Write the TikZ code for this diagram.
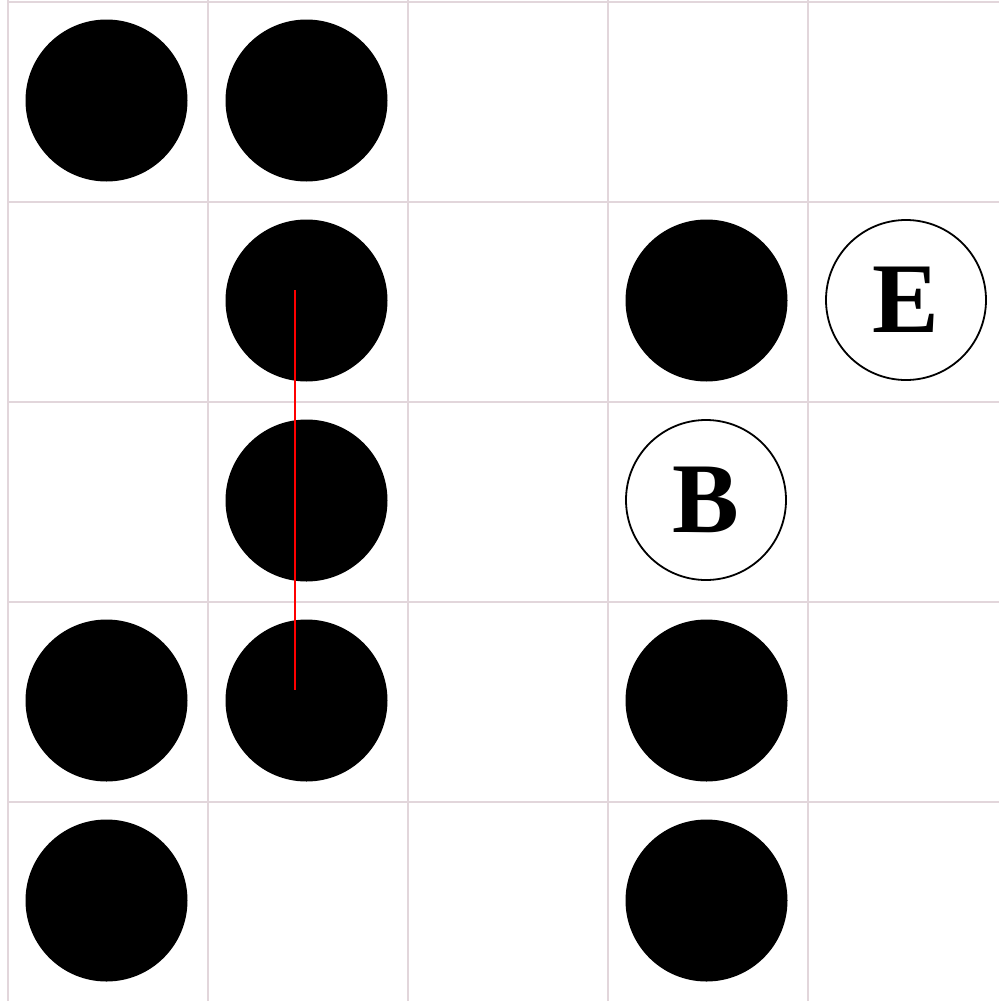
\documentclass[tikz,border=0pt]{standalone}
\usepackage{fontspec}
\setmainfont{Liberation Serif}
\definecolor{gridc}{RGB}{226,214,219}
\tikzset{
  stone/.style={circle,fill=black,minimum size=162pt,inner sep=0pt},
  marked/.style={circle,draw=black,line width=1.8pt,fill=white,minimum size=160pt,inner sep=0pt,font=\fontsize{100}{100}\selectfont\bfseries},
  gridline/.style={draw=gridc,line width=2pt},
  path/.style={draw=red,line width=2.5pt}
}
\begin{document}
\begin{tikzpicture}[x=1pt,y=-1pt]
\useasboundingbox (0,0) rectangle (999,1001);
\fill[white] (0,0) rectangle (999,1001);
\foreach \i in {0,...,5} {
  \draw[gridline] (7.5+200*\i,0) -- (7.5+200*\i,1001);
}
\foreach \j in {0,...,5} {
  \draw[gridline] (7.5,1.5+200*\j) -- (999,1.5+200*\j);
}
% black stones (col,row)
\node[stone] (s00) at (106.5,100.5) {};
\node[stone] (s10) at (306.5,100.5) {};
\node[stone] (s11) at (306.5,300.5) {};
\node[stone] (s31) at (706.5,300.5) {};
\node[stone] (s12) at (306.5,500.5) {};
\node[stone] (s03) at (106.5,700.5) {};
\node[stone] (s13) at (306.5,700.5) {};
\node[stone] (s33) at (706.5,700.5) {};
\node[stone] (s04) at (106.5,900.5) {};
\node[stone] (s34) at (706.5,900.5) {};
% marked
\node[marked] (E) at (906,300) {E};
\node[marked] (B) at (706,500) {B};
% red line
\coordinate (r1) at (295,290);
\coordinate (r2) at (295,690);
\draw[path] (r1) -- (r2);
\end{tikzpicture}
\end{document}
